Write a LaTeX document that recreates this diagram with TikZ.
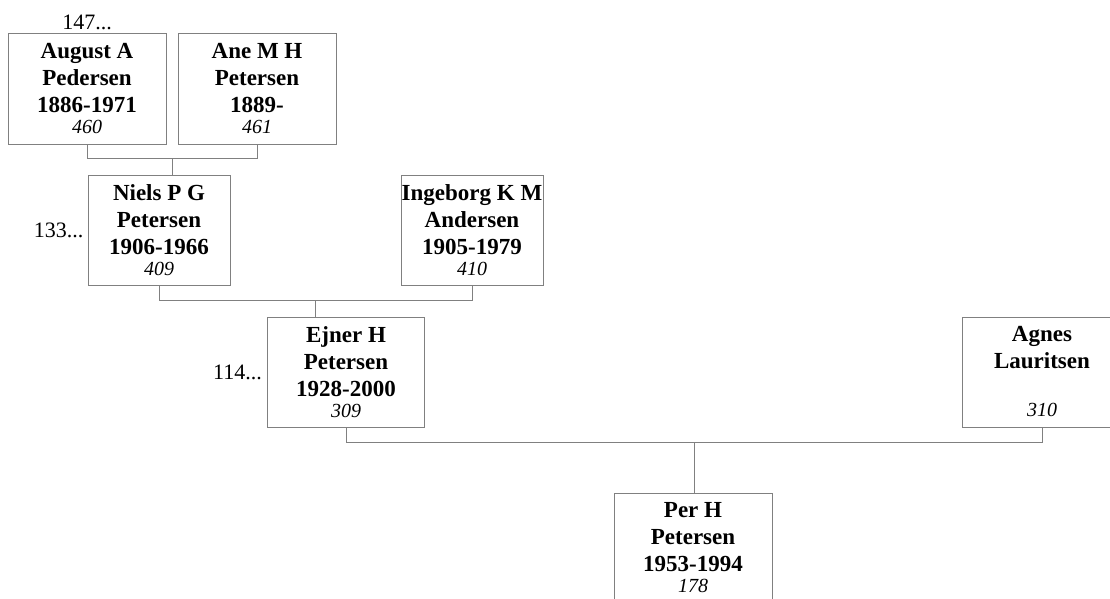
\documentclass[tikz,border=0pt]{standalone}
\usepackage{fontspec}
\setmainfont{Liberation Serif}
\usetikzlibrary{positioning,calc}
\definecolor{boxgray}{RGB}{128,128,128}
\newcommand{\pid}[1]{{\fontsize{20}{21}\selectfont\mdseries\itshape #1}}
\tikzset{
  person/.style={draw=boxgray, line width=1pt, minimum height=110pt, align=center,
    inner sep=0pt, font=\fontsize{23}{27}\selectfont\bfseries},
  link/.style={draw=boxgray, line width=1pt},
  more/.style={inner sep=1pt, font=\fontsize{22}{24}\selectfont}
}
\begin{document}
\begin{tikzpicture}[x=1pt, y=-1pt]
\clip (0,0) rectangle (1110,599);
\node (august) [person, minimum width=158pt] at (87,89) {August A\\Pedersen\\1886-1971\\[-6pt]\pid{460}};
\node (ane) [person, minimum width=158pt] at (257,89) {Ane M H\\Petersen\\1889-\\[-6pt]\pid{461}};
\node (niels) [person, minimum width=142pt] at (159,230) {Niels P G\\Petersen\\1906-1966\\[-6pt]\pid{409}};
\node (ingeborg) [person, minimum width=142pt] at (472,230) {Ingeborg K M\\Andersen\\1905-1979\\[-6pt]\pid{410}};
\node (ejner) [person, minimum width=157pt] at (346,372) {Ejner H\\Petersen\\1928-2000\\[-6pt]\pid{309}};
\node (agnes) [person, minimum width=160pt] at (1042,372) {Agnes\\Lauritsen\\\strut\\[-6pt]\pid{310}};
\node (per) [person, minimum width=158pt] at (693,548) {Per H\\Petersen\\1953-1994\\[-6pt]\pid{178}};

\node (up147) [more, above=2pt of august] {147...};
\node (up133) [more, left=3pt of niels] {133...};
\node (up114) [more, left=4pt of ejner] {114...};

\coordinate (c1) at ($(august.south)!0.5!(ane.south)+(0,14)$);
\draw[link] (august.south) |- (c1) -| (ane.south);
\draw[link] (c1) -- (c1 |- niels.north);
\coordinate (c2) at ($(niels.south)!0.5!(ingeborg.south)+(0,15)$);
\draw[link] (niels.south) |- (c2) -| (ingeborg.south);
\draw[link] (c2) -- (c2 |- ejner.north);
\coordinate (c3) at ($(ejner.south)!0.5!(agnes.south)+(0,15)$);
\draw[link] (ejner.south) |- (c3) -| (agnes.south);
\draw[link] (c3) -- (c3 |- per.north);
\end{tikzpicture}
\end{document}
